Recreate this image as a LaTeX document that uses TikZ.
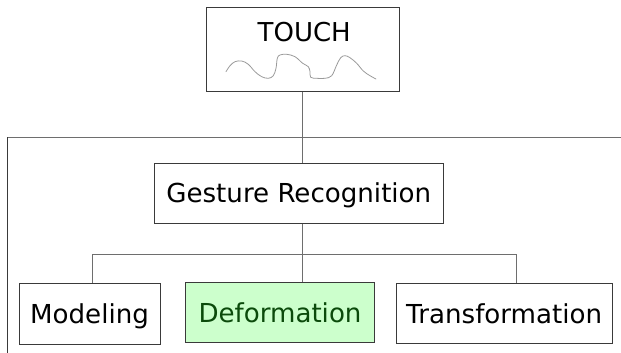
\documentclass[tikz,border=0pt]{standalone}
\usepackage{fontspec}
\setmainfont{DejaVu Sans}
\usetikzlibrary{calc}
\definecolor{boxline}{HTML}{3A3A3A}
\definecolor{linkline}{HTML}{6E6E6E}
\definecolor{deffill}{HTML}{CCFFCC}
\definecolor{deftext}{HTML}{0B4A0B}
\definecolor{wave}{HTML}{9A9A9A}
\tikzset{
  box/.style={draw=boxline, line width=0.9pt, rectangle, inner sep=0pt,
    font=\fontsize{26.1}{26.1}\selectfont, text height=19pt, text depth=0pt},
  link/.style={draw=linkline, line width=0.7pt},
  frame/.style={draw=linkline, line width=0.9pt},
  caption/.style={inner sep=0pt, font=\fontsize{26}{26}\selectfont,
    text height=18.9pt, text depth=0pt}
}
\begin{document}
\begin{tikzpicture}[x=1pt, y=-1pt]
\useasboundingbox (0,0) rectangle (621,353);
% top box with a freehand stroke
\node[box, minimum width=193.3pt, minimum height=84.2pt] (touch) at (302.65,49.6) {};
\node[caption, anchor=north] (touchtext) at (304.2,22) {TOUCH};
\draw[wave, line width=0.8pt, line cap=round] plot[smooth, tension=0.6] coordinates {
  (226,71.7) (230,65.7) (235,61.7) (241.7,61) (248.3,64.3) (255,71.7)
  (261.7,76.7) (268.3,78.3) (273.3,75.7) (276,68.3) (277.3,58.3) (280,55)
  (286.7,54.3) (295,56.7) (302.7,63.3) (308.3,66.7) (310,71.7) (310.7,77.3)
  (316.7,78.3) (325,78.3) (331.7,75.7) (336.7,65) (340.7,57.7) (345,55.7)
  (350,57.7) (356.7,63.3) (363.3,71) (370,75.7) (376,79)};
% boxes
\node[box, minimum width=289pt, minimum height=60pt] (gesture) at (298.8,193.3) {Gesture Recognition};
\node[box, minimum width=141pt, minimum height=60.7pt] (modeling) at (89.5,313.65) {Modeling};
\node[box, fill=deffill, text=deftext, minimum width=188.6pt, minimum height=60pt] (deform) at (280,312.7) {Deformation};
\node[box, minimum width=216.3pt, minimum height=60.3pt] (transf) at (504.15,313.5) {Transformation};
% enclosing frame corner
\coordinate (frameright) at (621,137.3);
\coordinate (framecorner) at (7.3,137.3);
\coordinate (framebottom) at (7.3,353);
\draw[frame] (frameright) -- (framecorner);
\draw[draw=boxline, line width=0.8pt] (framecorner) -- (framebottom);
% connectors
\draw[link] (touch.south) -- (touch.south |- gesture.north);
\draw[link] (touch.south |- gesture.south) -- (touch.south |- deform.north);
\coordinate (bl) at (92.7,254);
\coordinate (br) at (516,254);
\draw[link] (bl |- modeling.north) -- (bl) -- (br) -- (br |- transf.north);
\end{tikzpicture}
\end{document}
